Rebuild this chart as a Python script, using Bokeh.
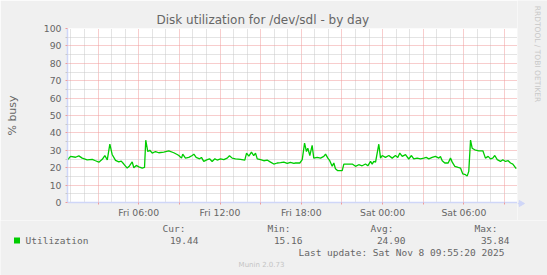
import math
from bokeh.plotting import figure
from bokeh.layouts import column, row
from bokeh.models import FixedTicker, Range1d
from bokeh.core.properties import value
from bokeh.embed import file_html
from bokeh.resources import INLINE

# time in hours since Fri 00:00, value in % busy
hours = [0.75, 0.97, 1.34, 1.58, 1.83, 2.20, 2.57, 2.81, 3.06, 3.31, 3.50, 3.68, 3.87, 4.04,
         4.29, 4.53, 4.71, 4.90, 5.15, 5.32, 5.52, 5.64, 5.82, 6.01, 6.26, 6.43, 6.52, 6.67,
         6.82, 7.00, 7.24, 7.48, 7.85, 8.22, 8.59, 8.84, 8.96, 9.16, 9.25, 9.45, 9.70, 9.95,
         10.07, 10.24, 10.49, 10.63, 10.80, 11.06, 11.23, 11.42, 11.62, 11.79, 12.04, 12.28,
         12.53, 12.70, 12.90, 13.14, 13.51, 13.83, 13.96, 14.13, 14.32, 14.49, 14.62, 14.75,
         14.99, 15.23, 15.48, 15.73, 15.97, 16.22, 16.47, 16.71, 16.96, 17.20, 17.45, 17.57,
         17.89, 18.07, 18.24, 18.38, 18.48, 18.63, 18.80, 18.92, 19.17, 19.42, 19.66, 19.79,
         19.96, 20.10, 20.28, 20.40, 20.52, 20.69, 21.02, 21.14, 21.39, 21.76, 22.00, 22.24,
         22.49, 22.74, 22.91, 23.11, 23.23, 23.35, 23.48, 23.60, 23.72, 23.85, 23.97, 24.21,
         24.46, 24.71, 24.95, 25.12, 25.27, 25.45, 25.69, 25.93, 26.13, 26.30, 26.55, 26.80,
         27.04, 27.22, 27.41, 27.66, 27.90, 28.15, 28.27, 28.40, 28.59, 28.84, 29.01, 29.14,
         29.33, 29.58, 29.75, 29.92, 30.12, 30.24, 30.36, 30.49, 30.61, 30.80, 31.10, 31.40,
         31.59, 31.79, 31.96, 32.13, 32.28, 32.46, 32.70, 32.87, 33.07, 33.27, 33.44, 33.61,
         33.86]
busy = [24.6, 26.5, 26.0, 26.8, 25.5, 24.5, 24.8, 24.0, 23.2, 24.8, 27.0, 24.5, 33.5, 27.6,
        24.2, 23.3, 23.8, 22.1, 19.8, 21.0, 23.3, 20.0, 21.3, 20.5, 19.8, 20.2, 35.8, 29.3,
        30.0, 28.4, 29.3, 28.6, 29.0, 29.7, 28.6, 27.6, 27.0, 25.5, 27.8, 25.5, 25.9, 27.0,
        27.8, 25.9, 25.1, 25.9, 23.6, 24.6, 25.1, 23.6, 25.1, 24.4, 25.1, 24.6,
        25.5, 26.9, 25.5, 25.1, 24.8, 24.4, 28.4, 26.7, 28.9, 27.0, 28.4, 25.1,
        24.6, 24.0, 24.4, 23.2, 22.1, 22.7, 22.9, 23.2, 22.5, 23.1, 22.5, 22.7,
        22.7, 24.6, 34.1, 29.3, 31.2, 27.0, 32.8, 25.5, 25.9, 25.5, 26.5, 27.8,
        25.5, 24.0, 20.8, 22.7, 19.4, 18.3, 18.3, 22.1, 22.1, 22.1, 20.8, 21.7,
        21.1, 22.1, 21.1, 23.6, 22.1, 23.6, 23.2, 28.4, 33.5, 25.5, 27.0, 25.9,
        27.0, 25.5, 27.0, 25.9, 28.4, 26.5, 27.5, 25.0, 27.0, 25.1, 25.5, 25.1,
        25.5, 25.9, 25.1, 25.9, 26.5, 25.5, 26.5, 24.0, 22.7, 22.7, 25.5, 23.2,
        20.8, 20.2, 19.8, 16.4, 16.0, 15.16, 17.9, 35.84, 31.2, 30.3, 29.7, 29.7,
        25.5, 26.5, 25.1, 25.5, 27.0, 24.6, 23.6, 24.6, 23.6, 24.0, 22.7, 22.1,
        19.44]

x_start, x_end = 0.745, 33.956
y_ticks = list(range(0, 101, 10))
y_minor = list(range(5, 100, 10))
x_major = list(range(3, 34, 3))
x_minor = [h for h in range(1, 34) if h % 3]
x_labels = {6: "Fri 06:00", 12: "Fri 12:00", 18: "Fri 18:00", 24: "Sat 00:00", 30: "Sat 06:00"}

title = "Disk utilization for /dev/sdl - by day"
y_label = "% busy"
series_name = "Utilization"
stat_names = ["Cur:", "Min:", "Avg:", "Max:"]
stat_values = ["19.44", "15.16", "24.90", "35.84"]
last_update = "Last update: Sat Nov  8 09:55:20 2025"
footer = "Munin 2.0.73"
watermark = "RRDTOOL / TOBI OETIKER"

FONT = "#666666"
MGRID = "#F09A9A"
GRID = "#C8C8C8"
AXIS = "#CFD6F8"
LINE = "#00CC00"
BACK = "#F0F0F0"

def strip(w, h, xr, yr):
    f = figure(width=w, height=h, output_backend="svg", toolbar_location=None,
               x_range=Range1d(*xr), y_range=Range1d(*yr),
               x_axis_type=None, y_axis_type=None,
               min_border_left=0, min_border_right=0, min_border_top=0, min_border_bottom=0,
               background_fill_color=BACK, border_fill_color=BACK)
    f.outline_line_color = None
    return f

p = figure(width=517, height=220, output_backend="svg", toolbar_location=None,
           x_range=Range1d(x_start, x_end), y_range=Range1d(0, 100),
           min_border_left=67, min_border_right=0, min_border_top=28, min_border_bottom=17,
           background_fill_color="white", border_fill_color=BACK)
p.outline_line_color = None
p.title.text = title
p.title.align = "left"
p.title.offset = 89
p.title.standoff = 4
p.title.text_font = "DejaVu Sans"
p.title.text_font_size = "12px"
p.title.text_font_style = "normal"
p.title.text_color = FONT

# grids
p.ygrid.ticker = FixedTicker(ticks=y_ticks, minor_ticks=y_minor)
p.xgrid.ticker = FixedTicker(ticks=x_major, minor_ticks=x_minor)
for g in (p.xgrid, p.ygrid):
    g.grid_line_color = MGRID
    g.grid_line_dash = "1 1"
    g.minor_grid_line_color = GRID
    g.minor_grid_line_dash = "1 1"

# axes
p.yaxis.ticker = FixedTicker(ticks=y_ticks, minor_ticks=y_minor)
p.xaxis.ticker = FixedTicker(ticks=x_major, minor_ticks=x_minor)
p.xaxis.major_label_overrides = {t: x_labels.get(t, "") for t in x_major}
for ax in (p.xaxis, p.yaxis):
    ax.axis_line_color = AXIS
    ax.axis_line_width = 1.5
    ax.major_tick_in = 0
    ax.major_tick_out = 2
    ax.major_tick_line_color = MGRID
    ax.minor_tick_in = 0
    ax.minor_tick_out = 2
    ax.minor_tick_line_color = GRID
    ax.major_label_text_font = "DejaVu Sans"
    ax.major_label_text_font_size = "9.3px"
    ax.major_label_text_color = FONT
p.xaxis.minor_tick_line_color = None
p.yaxis.major_label_standoff = 4
p.xaxis.major_label_standoff = 2
p.yaxis.axis_label = y_label
p.yaxis.axis_label_text_font = "DejaVu Sans"
p.yaxis.axis_label_text_font_size = "11px"
p.yaxis.axis_label_text_font_style = "normal"
p.yaxis.axis_label_text_color = FONT
p.yaxis.axis_label_standoff = 22

p.line(hours, busy, line_color=LINE, line_width=1.3)

try:
    from bokeh.models import InlineStyleSheet
    p.stylesheets = [InlineStyleSheet(css="path[stroke-dasharray] { shape-rendering: crispEdges; }")]
except Exception:
    pass

# right strip: x-axis arrow head and the rrdtool watermark (pixel-like coordinates)
r = strip(30, 220, (0, 30), (0, 220))
r.segment(x0=[0], y0=[17], x1=[3], y1=[17], line_color=AXIS, line_width=1.5)
r.scatter(x=[3.5], y=[17], marker="triangle", size=6, angle=-math.pi / 2,
          fill_color=AXIS, line_color=AXIS)
r.text(x=[20], y=[166.5], text=[watermark], angle=-math.pi / 2, text_align="center",
       text_baseline="middle", text_font=value("DejaVu Sans"),
       text_font_size=value("7.5px"), text_color="#C8C8C8")

# legend / footer strip (pixel-like coordinates, y downward)
q = strip(547, 55, (0, 547), (55, 0))
q.quad(left=[13.5], right=[19.5], top=[17], bottom=[23], fill_color=LINE, line_color=None)
mono = dict(text_font=value("DejaVu Sans Mono"), text_font_size=value("9.5px"),
            text_color=FONT, text_baseline="middle")
q.text(x=[25], y=[19.5], text=[series_name], text_align="left", **mono)
q.text(x=[185, 290, 393, 497], y=[7.5] * 4, text=stat_names, text_align="right", **mono)
q.text(x=[198, 302, 405, 509], y=[19.5] * 4, text=stat_values, text_align="right", **mono)
q.text(x=[298], y=[31.7], text=[last_update], text_align="left", **mono)
q.text(x=[261], y=[44], text=[footer], text_align="center", text_baseline="middle",
       text_font=value("DejaVu Sans"), text_font_size=value("7px"), text_color="#C4C4C4")

for fig in (p, r, q):
    if "frame_align" in fig.properties():
        fig.frame_align = False

layout = column(row(p, r, spacing=0), q, spacing=0)
open("out.html", "w").write(file_html(layout, INLINE))
